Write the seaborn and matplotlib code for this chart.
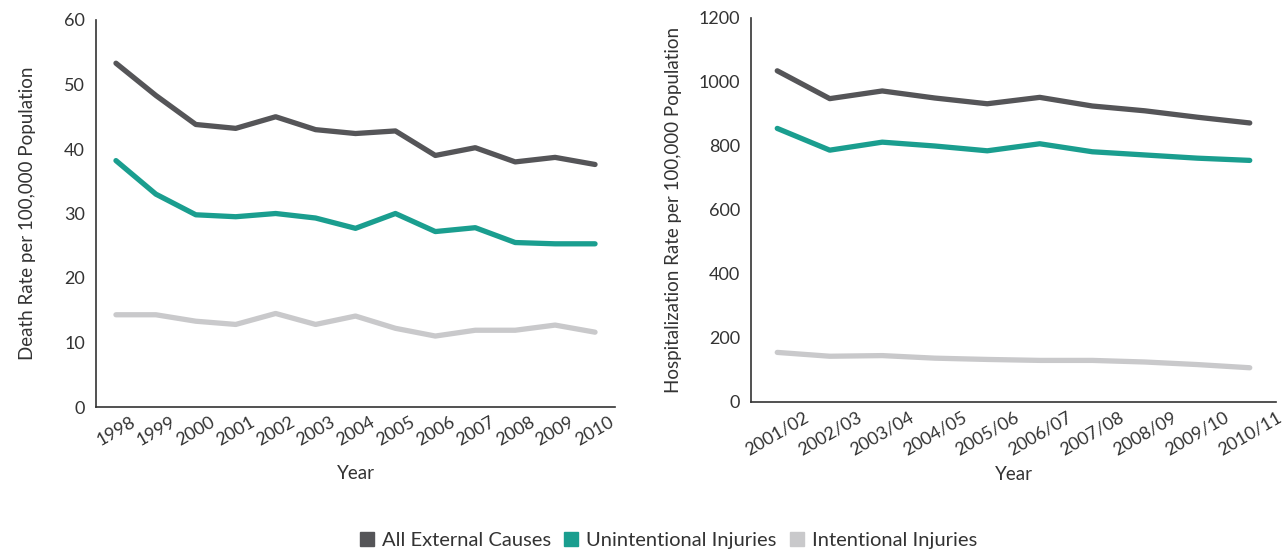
import pandas as pd
import matplotlib
matplotlib.use("Agg")
import matplotlib.pyplot as plt
import seaborn as sns
from matplotlib.lines import Line2D

# Data
death_years = ["1998", "1999", "2000", "2001", "2002", "2003", "2004",
               "2005", "2006", "2007", "2008", "2009", "2010"]
death_all = [53.3, 48.3, 43.8, 43.2, 45.0, 43.0, 42.4, 42.8, 39.0, 40.2, 38.0, 38.7, 37.6]
death_unint = [38.2, 33.0, 29.8, 29.5, 30.0, 29.3, 27.7, 30.0, 27.2, 27.8, 25.5, 25.3, 25.3]
death_int = [14.3, 14.3, 13.3, 12.8, 14.5, 12.8, 14.1, 12.2, 11.0, 11.9, 11.9, 12.7, 11.6]

hosp_years = ["2001/02", "2002/03", "2003/04", "2004/05", "2005/06",
              "2006/07", "2007/08", "2008/09", "2009/10", "2010/11"]
hosp_all = [1035, 948, 972, 950, 932, 952, 925, 910, 890, 872]
hosp_unint = [855, 787, 812, 800, 785, 807, 782, 772, 762, 755]
hosp_int = [155, 143, 145, 137, 133, 130, 130, 125, 117, 107]

series = ["All External Causes", "Unintentional Injuries", "Intentional Injuries"]
colors = ["#555558", "#1a9e8f", "#c9c9cb"]
palette = dict(zip(series, colors))


def long_form(years, a, u, i):
    rows = []
    for name, vals in zip(series, [a, u, i]):
        for y, v in zip(years, vals):
            rows.append({"Year": y, "Rate": v, "Series": name})
    return pd.DataFrame(rows)


sns.set_style("white")
plt.rcParams["font.family"] = ["Lato", "DejaVu Sans"]
plt.rcParams["text.color"] = "#333333"

fig = plt.figure(figsize=(12.84, 5.53), dpi=100)
ax1 = fig.add_axes([96 / 1284, 1 - 407 / 553, (615 - 96) / 1284, (407 - 20) / 553])
ax2 = fig.add_axes([751 / 1284, 1 - 402 / 553, (1276 - 751) / 1284, (402 - 18) / 553])

panels = [
    (ax1, long_form(death_years, death_all, death_unint, death_int), death_years,
     (0, 60), range(0, 61, 10), "Death Rate per 100,000 Population", 20, 12),
    (ax2, long_form(hosp_years, hosp_all, hosp_unint, hosp_int), hosp_years,
     (0, 1200), range(0, 1201, 200), "Hospitalization Rate per 100,000 Population", 12, 6),
]

for ax, df, years, ylim, yticks, ylabel, ypad, xpad in panels:
    sns.lineplot(data=df, x="Year", y="Rate", hue="Series", palette=palette,
                 linewidth=3.8, legend=False, ax=ax, sort=False)
    n = len(years)
    ax.set_xlim(-0.5, n - 0.5)
    ax.set_ylim(*ylim)
    ax.set_yticks(list(yticks))
    ax.set_xticks(range(n))
    ax.set_xticklabels(years, rotation=30, ha="center", fontsize=13, color="#333333")
    ax.set_xticks([k - 0.5 for k in range(n + 1)], minor=True)
    ax.tick_params(axis="x", which="major", length=0, pad=5)
    ax.tick_params(axis="x", which="minor", direction="in", length=9, width=1.2, color="#333333")
    ax.tick_params(axis="y", direction="in", length=7, width=1.2, color="#333333",
                   labelsize=13, labelcolor="#333333", pad=8)
    for s in ["top", "right"]:
        ax.spines[s].set_visible(False)
    for s in ["left", "bottom"]:
        ax.spines[s].set_color("#333333")
        ax.spines[s].set_linewidth(1.2)
    ax.set_xlabel("Year", fontsize=13.5, color="#333333", labelpad=xpad)
    ax.set_ylabel(ylabel, fontsize=13.5, color="#333333", labelpad=ypad)
    ax.grid(False)

handles = [Line2D([], [], marker="s", linestyle="none", markersize=10,
                  color=c) for c in colors]
fig.legend(handles, series, loc="lower center", bbox_to_anchor=(0.52, -0.025), ncol=3,
           frameon=False, fontsize=14.5, handlelength=0.8, handletextpad=0.35,
           columnspacing=0.6)

fig.savefig("out.png", dpi=100)
